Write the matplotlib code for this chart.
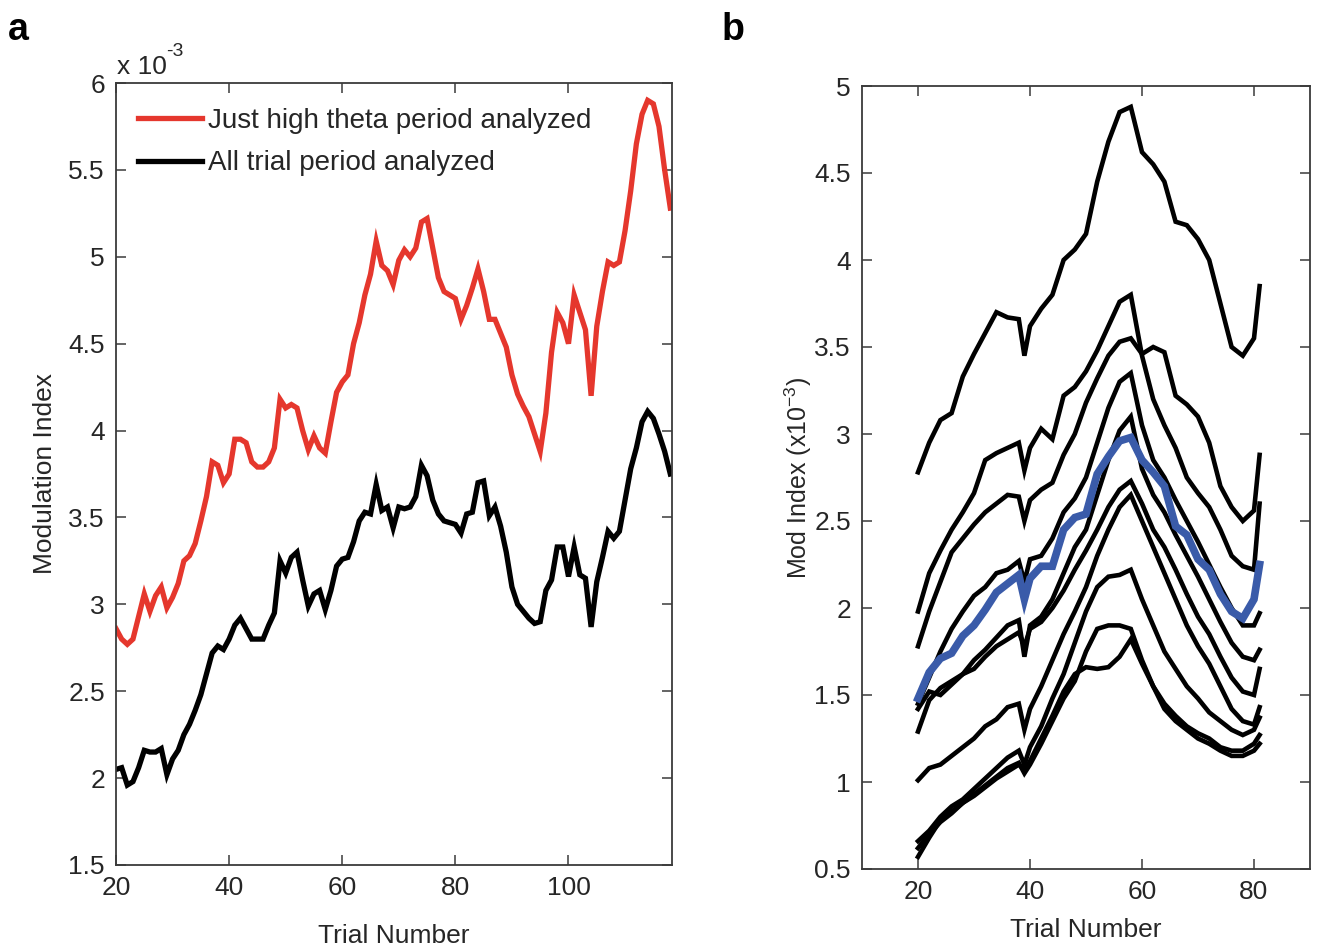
import matplotlib
matplotlib.use("Agg")
import matplotlib.pyplot as plt

plt.rcParams['font.family'] = ['Liberation Sans', 'DejaVu Sans']
plt.rcParams['mathtext.fontset'] = 'custom'
plt.rcParams['mathtext.rm'] = 'Liberation Sans'
plt.rcParams['mathtext.it'] = 'Liberation Sans:italic'
plt.rcParams['mathtext.bf'] = 'Liberation Sans:bold'

# ---------------- Panel a data (values in units of 1e-3) ----------------
trials_a = list(range(20, 119))
high_theta = [2.86, 2.80, 2.77, 2.80, 2.93, 3.06, 2.96, 3.05, 3.10, 2.98,
              3.04, 3.12, 3.25, 3.28, 3.35, 3.48, 3.62, 3.82, 3.80, 3.70,
              3.75, 3.95, 3.95, 3.93, 3.82, 3.79, 3.79, 3.82, 3.90, 4.18,
              4.13, 4.15, 4.13, 4.00, 3.89, 3.97, 3.90, 3.87, 4.05, 4.22,
              4.28, 4.32, 4.50, 4.62, 4.78, 4.90, 5.09, 4.95, 4.92, 4.84,
              4.98, 5.04, 5.00, 5.05, 5.20, 5.22, 5.05, 4.88, 4.80, 4.78,
              4.76, 4.64, 4.72, 4.82, 4.93, 4.80, 4.64, 4.64, 4.56, 4.48,
              4.32, 4.21, 4.14, 4.08, 3.98, 3.88, 4.10, 4.45, 4.68, 4.62,
              4.50, 4.78, 4.68, 4.58, 4.20, 4.60, 4.80, 4.97, 4.95, 4.97,
              5.15, 5.38, 5.65, 5.82, 5.90, 5.88, 5.75, 5.50, 5.28]
all_trial = [2.05, 2.06, 1.96, 1.98, 2.06, 2.16, 2.15, 2.15, 2.17, 2.02,
             2.11, 2.16, 2.25, 2.31, 2.39, 2.48, 2.60, 2.72, 2.76, 2.74,
             2.80, 2.88, 2.92, 2.86, 2.80, 2.80, 2.80, 2.88, 2.95, 3.25,
             3.18, 3.27, 3.30, 3.14, 2.99, 3.06, 3.08, 2.97, 3.08, 3.22,
             3.26, 3.27, 3.36, 3.48, 3.53, 3.52, 3.69, 3.54, 3.56, 3.44,
             3.56, 3.55, 3.56, 3.62, 3.80, 3.74, 3.60, 3.52, 3.48, 3.47,
             3.46, 3.41, 3.52, 3.53, 3.70, 3.71, 3.51, 3.56, 3.45, 3.30,
             3.10, 3.00, 2.96, 2.92, 2.89, 2.90, 3.08, 3.14, 3.33, 3.33,
             3.16, 3.33, 3.17, 3.15, 2.87, 3.13, 3.27, 3.42, 3.38, 3.42,
             3.60, 3.78, 3.90, 4.05, 4.11, 4.07, 3.98, 3.88, 3.75]
legend_labels = ["Just high theta period analyzed", "All trial period analyzed"]
xticks_a = [20, 40, 60, 80, 100]
yticks_a = [1.5, 2, 2.5, 3, 3.5, 4, 4.5, 5, 5.5, 6]
yticklabels_a = ["1.5", "2", "2.5", "3", "3.5", "4", "4.5", "5", "5.5", "6"]

# ---------------- Panel b data (values in units of 1e-3) ----------------
trials_b = [20, 22, 24, 26, 28, 30, 32, 34, 36, 38, 39, 40, 42, 44, 46, 48, 50,
            52, 54, 56, 58, 60, 62, 64, 66, 68, 70, 72, 74, 76, 78, 80, 81]
line_A = [2.78, 2.95, 3.08, 3.12, 3.33, 3.46, 3.58, 3.70, 3.67, 3.66, 3.45, 3.62,
          3.72, 3.80, 4.00, 4.06, 4.15, 4.45, 4.68, 4.85, 4.88, 4.62, 4.55, 4.45,
          4.22, 4.20, 4.12, 4.00, 3.75, 3.50, 3.45, 3.55, 3.85]
line_B = [1.98, 2.20, 2.33, 2.45, 2.55, 2.66, 2.85, 2.89, 2.92, 2.95, 2.79, 2.92,
          3.03, 2.97, 3.22, 3.27, 3.36, 3.48, 3.62, 3.76, 3.80, 3.45, 3.20, 3.05,
          2.92, 2.75, 2.66, 2.58, 2.45, 2.30, 2.24, 2.22, 2.60]
line_C = [1.78, 1.98, 2.15, 2.32, 2.40, 2.48, 2.55, 2.60, 2.65, 2.64, 2.50, 2.62,
          2.68, 2.72, 2.88, 3.00, 3.18, 3.32, 3.45, 3.53, 3.55, 3.46, 3.50, 3.47,
          3.22, 3.17, 3.10, 2.95, 2.70, 2.58, 2.50, 2.56, 2.88]
line_D = [1.45, 1.60, 1.75, 1.88, 1.98, 2.07, 2.12, 2.20, 2.22, 2.27, 2.15, 2.28,
          2.30, 2.40, 2.55, 2.63, 2.75, 2.95, 3.15, 3.30, 3.35, 3.05, 2.85, 2.75,
          2.62, 2.50, 2.38, 2.25, 2.12, 2.00, 1.90, 1.90, 1.97]
line_E = [1.29, 1.47, 1.54, 1.58, 1.62, 1.70, 1.76, 1.83, 1.90, 1.93, 1.72, 1.90,
          1.95, 2.05, 2.20, 2.35, 2.45, 2.65, 2.85, 3.02, 3.10, 2.80, 2.65, 2.55,
          2.42, 2.30, 2.18, 2.05, 1.92, 1.80, 1.72, 1.70, 1.76]
line_F = [1.42, 1.52, 1.50, 1.56, 1.62, 1.65, 1.72, 1.78, 1.82, 1.86, 1.78, 1.88,
          1.92, 2.00, 2.10, 2.22, 2.33, 2.45, 2.58, 2.68, 2.73, 2.60, 2.45, 2.35,
          2.22, 2.08, 1.95, 1.85, 1.72, 1.60, 1.52, 1.50, 1.65]
line_G = [1.01, 1.08, 1.10, 1.15, 1.20, 1.25, 1.32, 1.36, 1.43, 1.45, 1.30, 1.42,
          1.55, 1.70, 1.85, 1.98, 2.12, 2.30, 2.45, 2.58, 2.65, 2.50, 2.35, 2.20,
          2.05, 1.90, 1.78, 1.68, 1.55, 1.42, 1.35, 1.33, 1.43]
line_H = [0.66, 0.72, 0.80, 0.86, 0.90, 0.96, 1.02, 1.08, 1.14, 1.18, 1.10, 1.20,
          1.32, 1.48, 1.62, 1.80, 1.98, 2.12, 2.18, 2.19, 2.22, 2.05, 1.90, 1.75,
          1.65, 1.55, 1.48, 1.40, 1.35, 1.30, 1.27, 1.30, 1.37]
line_I = [0.57, 0.68, 0.78, 0.83, 0.88, 0.93, 0.98, 1.03, 1.08, 1.11, 1.05, 1.10,
          1.22, 1.35, 1.48, 1.58, 1.75, 1.88, 1.90, 1.90, 1.88, 1.70, 1.55, 1.45,
          1.38, 1.32, 1.28, 1.25, 1.20, 1.18, 1.18, 1.22, 1.27]
line_J = [0.62, 0.70, 0.77, 0.82, 0.88, 0.92, 0.97, 1.02, 1.06, 1.10, 1.07, 1.12,
          1.25, 1.38, 1.52, 1.62, 1.66, 1.65, 1.66, 1.72, 1.82, 1.68, 1.55, 1.42,
          1.35, 1.30, 1.25, 1.22, 1.18, 1.15, 1.15, 1.18, 1.22]
mean_line = [1.48, 1.63, 1.71, 1.74, 1.84, 1.90, 1.99, 2.09, 2.14, 2.19, 2.05, 2.17,
             2.24, 2.24, 2.45, 2.52, 2.54, 2.77, 2.87, 2.96, 2.98, 2.85, 2.78, 2.70,
             2.47, 2.42, 2.28, 2.22, 2.08, 1.98, 1.94, 2.05, 2.25]
black_lines = [line_A, line_B, line_C, line_D, line_E, line_F, line_G, line_H, line_I, line_J]
xticks_b = [20, 40, 60, 80]
yticks_b = [0.5, 1, 1.5, 2, 2.5, 3, 3.5, 4, 4.5, 5]
yticklabels_b = ["0.5", "1", "1.5", "2", "2.5", "3", "3.5", "4", "4.5", "5"]

RED = '#E5372D'
BLUE = '#3A5BA9'
AXC = '#3a3a3a'
TXT = '#262626'
FS = 19

W, H = 1319, 948
fig = plt.figure(figsize=(W / 100, H / 100), dpi=100)


def px_axes(l, r, t, b):
    return [l / W, 1 - b / H, (r - l) / W, (b - t) / H]


def style(ax):
    for s in ax.spines.values():
        s.set_linewidth(1.3)
        s.set_color(AXC)
    ax.tick_params(direction='in', length=7, width=1.1, color=AXC,
                   top=True, right=True, labelsize=FS, labelcolor=TXT, pad=8)


# ---- Panel a ----
ax1 = fig.add_axes(px_axes(116, 672, 83, 865))
ax1.plot(trials_a, high_theta, color=RED, lw=3.8, solid_joinstyle='miter', label=legend_labels[0])
ax1.plot(trials_a, all_trial, color='black', lw=3.8, solid_joinstyle='miter', label=legend_labels[1])
ax1.set_xlim(20, 118.3)
ax1.set_ylim(1.5, 6)
ax1.set_xticks(xticks_a)
ax1.set_yticks(yticks_a)
ax1.set_yticklabels(yticklabels_a)
style(ax1)
ax1.set_xlabel("Trial Number", fontsize=FS, color=TXT, labelpad=17)
ax1.set_ylabel("Modulation Index", fontsize=FS, color=TXT, labelpad=8)
leg = ax1.legend(loc='upper left', bbox_to_anchor=(0.0, 0.997), frameon=False,
                 fontsize=FS + 1, handlelength=2.3, handletextpad=0.2,
                 labelspacing=0.6, borderaxespad=0.4)
for t in leg.get_texts():
    t.set_color(TXT)
fig.text(117 / W, 1 - 74 / H, "x 10", fontsize=FS, color=TXT, ha='left', va='baseline')
fig.text(166 / W, 1 - 56 / H, "-3", fontsize=14, color=TXT, ha='left', va='baseline')

# ---- Panel b ----
ax2 = fig.add_axes(px_axes(862, 1310, 86, 869))
for ln in black_lines:
    ax2.plot(trials_b, ln, color='black', lw=3.3, solid_joinstyle='miter')
ax2.plot(trials_b, mean_line, color=BLUE, lw=5.5, solid_joinstyle='miter')
ax2.set_xlim(10, 90)
ax2.set_ylim(0.5, 5)
ax2.set_xticks(xticks_b)
ax2.set_yticks(yticks_b)
ax2.set_yticklabels(yticklabels_b)
style(ax2)
ax2.set_xlabel("Trial Number", fontsize=FS, color=TXT, labelpad=10)
ax2.set_ylabel(r"Mod Index (x10$^{-3}$)", fontsize=FS - 1, color=TXT, labelpad=0)

# Panel letters
fig.text(8 / W, 1 - 40 / H, "a", fontsize=27, fontweight='bold', ha='left', va='baseline')
fig.text(722 / W, 1 - 40 / H, "b", fontsize=27, fontweight='bold', ha='left', va='baseline')

fig.savefig("out.png", dpi=100)
